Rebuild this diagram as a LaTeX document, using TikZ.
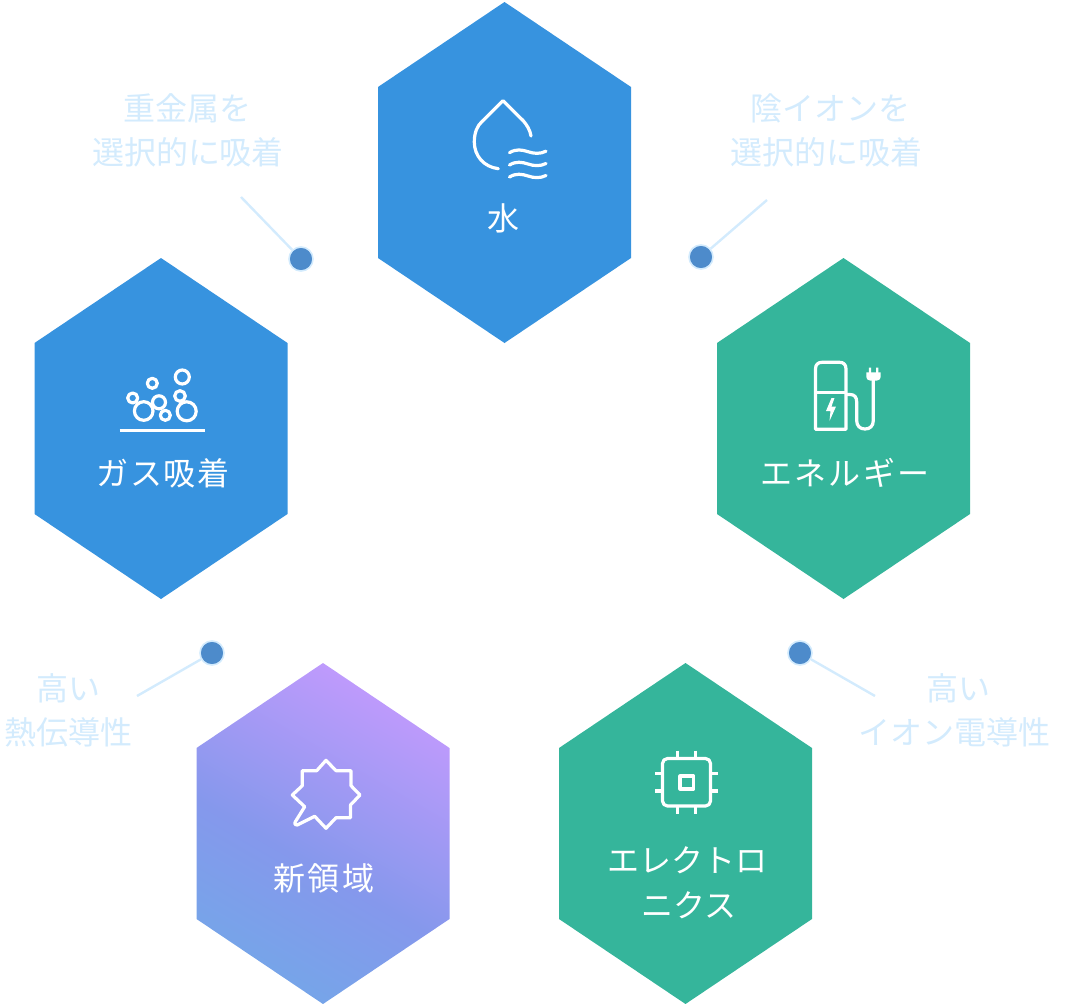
\documentclass[tikz,border=0pt]{standalone}
\usepackage{fontspec}
\setmainfont{Noto Sans CJK JP}
\newfontfamily\jpa[LetterSpace=5]{Noto Sans CJK JP}
\newfontfamily\jpb[LetterSpace=7]{Noto Sans CJK JP}
\newfontfamily\jpc[LetterSpace=9]{Noto Sans CJK JP}
\newfontfamily\jpl{Noto Sans CJK JP}
\definecolor{hexblue}{HTML}{3793DF}
\definecolor{hexgreen}{HTML}{35B59B}
\definecolor{pale}{HTML}{D3EBFD}
\definecolor{dotblue}{HTML}{4D8BCB}
\definecolor{gradA}{HTML}{72A8E8}
\definecolor{gradB}{HTML}{8598EC}
\definecolor{gradC}{HTML}{C99BFF}
\pgfdeclareverticalshading{newgrad}{100bp}{color(0bp)=(gradA); color(29bp)=(gradA); color(46bp)=(gradB); color(71bp)=(gradC); color(100bp)=(gradC)}
\tikzset{
  x=1pt,y=-1pt,
  hexlabel/.style={text=white,align=center,inner sep=0pt},
  sidelabel/.style={text=pale,font=\fontsize{32}{44}\selectfont\jpl,align=center,inner sep=0pt},
  dot/.style={circle,fill=dotblue,draw=pale,line width=1.6pt,minimum size=24pt,inner sep=0pt},
  lead/.style={draw=pale,line width=2.4pt},
  icon/.style={draw=white,line width=3.2pt,line join=round,fill=none},
}
\newcommand{\hexpath}[2]{(#1,#2) -- (#1+126.5,#2+85) -- (#1+126.5,#2+256) -- (#1,#2+341) -- (#1-126.5,#2+256) -- (#1-126.5,#2+85) -- cycle}
\begin{document}
\begin{tikzpicture}
\useasboundingbox (0,0) rectangle (1066,1004);
% hexagons
\fill[hexblue] \hexpath{504.5}{2};
\fill[hexblue] \hexpath{161}{258};
\fill[hexgreen] \hexpath{843.5}{258};
\fill[hexgreen] \hexpath{685.5}{663};
\begin{scope}
  \clip \hexpath{323}{663};
  \shade[shading=newgrad,shading angle=-30] (323,833) circle (215);
\end{scope}
% water icon
\draw[icon,line cap=round] (498.3,168.7) .. controls (484,167) and (474.3,156) .. (474.3,142) .. controls (474.3,133) and (477,126) .. (482,121.5) -- (503,100.7) -- (523,120.5) .. controls (527,125) and (530,130) .. (531,136);
\foreach \yy in {151.7,164,176}
  \draw[icon,line cap=round] (509.5,\yy+1) .. controls (516,\yy-3) and (522,\yy-2) .. (528,\yy) .. controls (534,\yy+2) and (540,\yy+2.5) .. (546,\yy-0.5);
% bubbles icon
\foreach \cx/\cy/\r in {182.3/377/7,152.3/383.3/5,132.7/398/5,143.7/411/9.3,159/402.3/6.5,165.3/415.3/5,180/396/5.3,186.7/411.3/9.5}
  \draw[icon] (\cx,\cy) circle (\r);
\draw[icon] (119.5,430.3) -- (204.5,430.3);
% energy icon
\draw[icon] (815.5,429.3) -- (815.5,369) .. controls (815.5,364.5) and (818,362.3) .. (822,362.3) -- (839.5,362.3) .. controls (843.5,362.3) and (846,364.5) .. (846,369) -- (846,429.3) -- cycle;
\draw[icon] (815.5,392.3) -- (846,392.3);
\fill[white] (831.5,398) -- (826,411) -- (830.5,411) -- (829.5,421) -- (836,406.5) -- (831.5,406.5) -- (834.5,398) -- cycle;
\draw[icon] (846,394.5) -- (850,394.5) .. controls (854.5,394.5) and (856.7,397) .. (856.7,402) -- (856.7,420.5) .. controls (856.7,426) and (860,429) .. (865,429) .. controls (870,429) and (873.3,426) .. (873.3,420.5) -- (873.3,378);
\fill[white] (866.3,372.3) -- (880.7,372.3) -- (880.7,377) .. controls (880.7,379) and (879,380.5) .. (877,380.5) -- (870,380.5) .. controls (868,380.5) and (866.3,379) .. (866.3,377) -- cycle;
\fill[white] (868.8,367.5) rectangle (871.2,373) (876,367.5) rectangle (878.4,373);
% star icon
\draw[icon] (326,760.3) -- (336,770.7) -- (351,770.7) -- (351,785.7) -- (360,795) -- (350.5,805) -- (350.5,817.7) -- (336,817.7) -- (326,828.3) -- (314.7,816.3) -- (297.3,825) .. controls (295.5,825.5) and (294,824) .. (295,822.3) -- (304.7,806.7) -- (292.3,795) -- (302.3,785.7) -- (302.3,770.7) -- (316.7,770.7) -- cycle;
% chip icon
\draw[icon,rounded corners=5pt] (662.5,758.5) rectangle (710.5,806);
\draw[icon] (680,776) rectangle (693.5,789);
\foreach \xx in {677.3,695.3} { \draw[icon] (\xx,750.7) -- (\xx,758.3); \draw[icon] (\xx,806) -- (\xx,813.7); }
\foreach \yy in {773.3,791} { \draw[icon] (655,\yy) -- (662.3,\yy); \draw[icon] (710.5,\yy) -- (717.7,\yy); }
% hexagon labels
\node[hexlabel,font=\fontsize{32}{45}\selectfont\jpl] (water) at (503,218) {水};
\node[hexlabel,font=\fontsize{32}{45}\selectfont\jpa] (gas) at (163,473) {ガス吸着};
\node[hexlabel,font=\fontsize{32}{45}\selectfont\jpb] (energy) at (845,473) {エネルギー};
\node[hexlabel,font=\fontsize{32}{45}\selectfont\jpc] (newfield) at (324,878) {新領域};
\node[hexlabel,font=\fontsize{32}{45}\selectfont\jpl] (electro) at (687,883) {エレクトロ\\\hspace*{4pt}ニクス};
% side labels
\node[sidelabel] (l1) at (188,130) {重金属を\\選択的に吸着};
\node[sidelabel] (l2) at (826,130) {\hspace*{8pt}陰イオンを\\選択的に吸着};
\node[sidelabel] (l3) at (69,710) {高い\\熱伝導性};
\node[sidelabel] (l4) at (954,710) {\hspace*{8pt}高い\\イオン電導性};
% connectors
\coordinate (c1) at (241,197);
\coordinate (c2) at (767,200);
\coordinate (c3) at (137,696);
\coordinate (c4) at (875,696);
\node[dot] (d1) at (301,259) {};
\node[dot] (d2) at (701,257) {};
\node[dot] (d3) at (212,653) {};
\node[dot] (d4) at (800,653) {};
\draw[lead] (c1) -- (d1);
\draw[lead] (c2) -- (d2);
\draw[lead] (c3) -- (d3);
\draw[lead] (c4) -- (d4);
\end{tikzpicture}
\end{document}
